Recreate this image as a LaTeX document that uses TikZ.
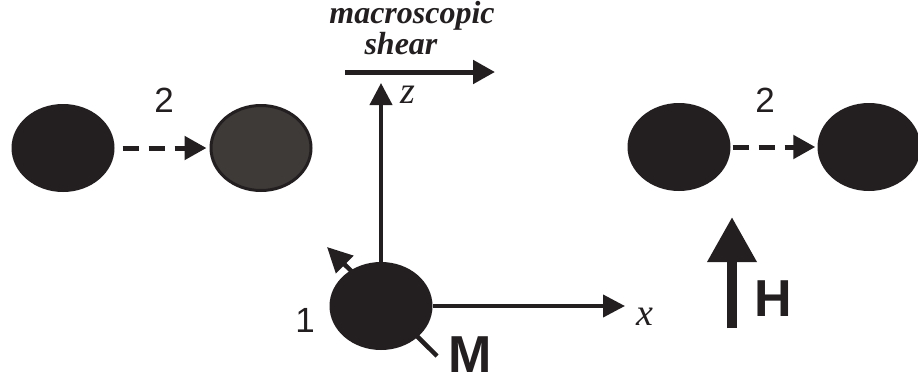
\documentclass[tikz,border=0pt]{standalone}
\usepackage{fontspec}
\setmainfont{Liberation Serif}
\newfontfamily\labelfont{Liberation Sans}
\usetikzlibrary{arrows.meta, shapes.geometric, positioning}
\definecolor{blob}{HTML}{231F20}
\definecolor{blobgray}{HTML}{3D3A38}
\tikzset{
	particle/.style={ellipse, fill=blob, minimum width=103pt, minimum height=88pt, inner sep=0pt}
}
\tikzset{
	hop/.style={line width=5pt, draw=blob, dash pattern=on 16pt off 10pt, -{Triangle[length=22pt, width=23pt]}},
	axis/.style={line width=4pt, draw=blob, -{Triangle[length=22pt, width=22pt]}}
}
\tikzset{
	numlabel/.style={font=\labelfont\fontsize{35}{40}\selectfont, text=blob},
	veclabel/.style={font=\labelfont\bfseries\fontsize{52}{58}\selectfont, text=blob},
	axislabel/.style={font=\itshape\fontsize{38}{42}\selectfont, text=blob}
}

\begin{document}
\begin{tikzpicture}[x=1pt, y=-1pt]
      \useasboundingbox (0,0) rectangle (918,383);

      % left pair, particle 2 before and after the hop
      \node[particle] (p2a) at (63,148) {};
      \node[particle, fill=blobgray, draw=blob, line width=3pt, minimum width=100pt, minimum height=85pt] (p2b) at (261,148) {};
      \draw[hop, shorten <=8pt, shorten >=3pt] (p2a.east) -- (p2b.west);
      \node[numlabel] (n2a) at (164,100) {2};

      % right pair
      \node[particle] (p2c) at (679,147) {};
      \node[particle] (p2d) at (869,147) {};
      \draw[hop, shorten <=2pt, shorten >=2pt] (p2c.east) -- (p2d.west);
      \node[numlabel] (n2b) at (765,100) {2};

      % magnetisation of particle 1, drawn under it
      \coordinate (mtail) at (437,356);
      \coordinate (mtip) at (327,247);
      \draw[line width=4.5pt, draw=blob, -{Triangle[length=25pt, width=24pt]}] (mtail) -- (mtip);

      % particle 1 and the axes
      \node[particle] (p1) at (381,306) {};
      \coordinate (ztip) at (381,83);
      \coordinate (xtip) at (625,306);
      \draw[axis] (p1.north) -- (ztip);
      \draw[axis] (p1.east) -- (xtip);
      \node[axislabel] (zl) at (408,95) {z};
      \node[axislabel] (xl) at (645,317) {x};
      \node[numlabel] (n1) at (305,320) {1};
      \node[veclabel] (ml) at (470,355) {M};

      % shear direction
      \coordinate (sl) at (345,72);
      \coordinate (sr) at (495,72);
      \draw[line width=5pt, draw=blob, -{Triangle[length=22pt, width=23pt]}] (sl) -- (sr);
      \node[font=\bfseries\itshape\fontsize{32}{31}\selectfont, text=blob, align=center] (shear) at (412,28) {macroscopic\\\hspace*{-22pt}shear};

      % field
      \coordinate (hb) at (732,328);
      \coordinate (ht) at (732,217);
      \draw[line width=10pt, draw=blob, -{Triangle[length=45pt, width=47pt]}] (hb) -- (ht);
      \node[veclabel] (hl) at (773,299) {H};
    \end{tikzpicture}
\end{document}
